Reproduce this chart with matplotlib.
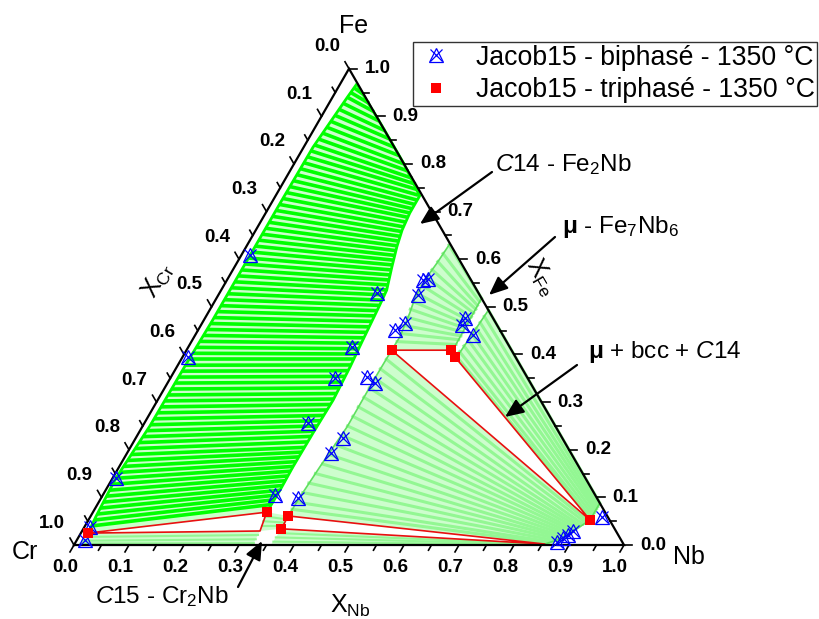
import numpy as np
import matplotlib
matplotlib.use('Agg')
import matplotlib.pyplot as plt
from matplotlib.lines import Line2D

plt.rcParams['font.family'] = ['Liberation Sans', 'DejaVu Sans']
plt.rcParams['mathtext.fontset'] = 'custom'
plt.rcParams['mathtext.rm'] = 'Liberation Sans'
plt.rcParams['mathtext.it'] = 'Liberation Sans:italic'
plt.rcParams['mathtext.bf'] = 'Liberation Sans:bold'

# ---------------- data (x_Nb, x_Fe mole fractions) ----------------
# bcc (Cr,Fe) boundary, bottom -> top
bccA_nb = [0.013, 0.010, 0.006, 0.013, 0.014, 0.016, 0.016, 0.016, 0.017, 0.027, 0.030]
bccA_fe = [0.025, 0.060, 0.140, 0.250, 0.380, 0.470, 0.610, 0.720, 0.835, 0.940, 0.966]
# Laves boundary (Cr side), bottom -> top
lavA_nb = [0.316, 0.317, 0.316, 0.317, 0.319, 0.315, 0.310, 0.304, 0.301, 0.286, 0.274, 0.266, 0.262, 0.262, 0.200, 0.120, 0.032]
lavA_fe = [0.069, 0.116, 0.164, 0.235, 0.304, 0.374, 0.430, 0.504, 0.535, 0.584, 0.626, 0.661, 0.697, 0.733, 0.800, 0.880, 0.966]
# Laves boundary (Nb/Fe side), top -> bottom
lavB_nb = [0.367, 0.364, 0.3605, 0.360, 0.367, 0.374, 0.373, 0.372, 0.3725, 0.365, 0.3605, 0.359]
lavB_fe = [0.630, 0.592, 0.563, 0.521, 0.487, 0.437, 0.409, 0.350, 0.248, 0.164, 0.101, 0.061]
# mu phase boundaries, top -> bottom
muL_nb = [0.482, 0.484, 0.481]
muL_fe = [0.518, 0.416, 0.409]
muR_nb = [0.507, 0.499, 0.495]
muR_fe = [0.493, 0.399, 0.395]
# bcc (Nb) boundary, top -> bottom
bccNb_nb = [0.912, 0.912, 0.893, 0.882, 0.855]
bccNb_fe = [0.088, 0.0525, 0.029, 0.0147, 0.002]

# tie lines, bcc(Cr,Fe) + Laves (first set)
tieA_bcc_fe = [0.040, 0.065, 0.090, 0.115, 0.140, 0.165, 0.190, 0.215, 0.240, 0.265, 0.290, 0.315, 0.340,
               0.365, 0.390, 0.415, 0.440, 0.465, 0.490, 0.515, 0.540, 0.565, 0.590, 0.615, 0.640, 0.665,
               0.690, 0.715, 0.740, 0.765, 0.790, 0.815, 0.840, 0.865, 0.890, 0.915, 0.940, 0.960]
tieA_bcc_nb = [0.012, 0.010, 0.009, 0.007, 0.006, 0.008, 0.009, 0.011, 0.013, 0.013, 0.013, 0.014, 0.014,
               0.014, 0.014, 0.015, 0.015, 0.016, 0.016, 0.016, 0.016, 0.016, 0.016, 0.016, 0.016, 0.016,
               0.016, 0.016, 0.016, 0.016, 0.017, 0.017, 0.017, 0.019, 0.021, 0.024, 0.027, 0.029]
tieA_lav_fe = [0.085, 0.105, 0.125, 0.145, 0.165, 0.185, 0.205, 0.228, 0.250, 0.272, 0.295, 0.318, 0.342,
               0.366, 0.390, 0.412, 0.435, 0.458, 0.481, 0.503, 0.525, 0.546, 0.567, 0.588, 0.608, 0.628,
               0.648, 0.668, 0.688, 0.706, 0.724, 0.745, 0.770, 0.800, 0.835, 0.870, 0.910, 0.945]
tieA_lav_nb = [0.316, 0.317, 0.317, 0.316, 0.316, 0.316, 0.317, 0.317, 0.317, 0.318, 0.319, 0.318, 0.317,
               0.315, 0.314, 0.312, 0.310, 0.308, 0.306, 0.304, 0.302, 0.297, 0.291, 0.285, 0.279, 0.274,
               0.269, 0.265, 0.263, 0.262, 0.262, 0.255, 0.230, 0.200, 0.165, 0.130, 0.090, 0.055]
# tie lines, bcc(Cr,Fe) + Laves (second set, between the first ones)
tieA2_bcc_fe = [0.0525, 0.0775, 0.1025, 0.1275, 0.1525, 0.1775, 0.2025, 0.2275, 0.2525, 0.2775, 0.3025,
                0.3275, 0.3525, 0.3775, 0.4025, 0.4275, 0.4525, 0.4775, 0.5025, 0.5275, 0.5525, 0.5775,
                0.6025, 0.6275, 0.6525, 0.6775, 0.7025, 0.7275, 0.7525, 0.7775, 0.8025, 0.8275, 0.8525,
                0.8775, 0.9025, 0.9275, 0.950]
tieA2_bcc_nb = [0.011, 0.0095, 0.008, 0.0065, 0.007, 0.0085, 0.010, 0.012, 0.013, 0.013, 0.0135,
                0.014, 0.014, 0.014, 0.0145, 0.015, 0.0155, 0.016, 0.016, 0.016, 0.016, 0.016,
                0.016, 0.016, 0.016, 0.016, 0.016, 0.016, 0.016, 0.0165, 0.017, 0.017, 0.018,
                0.020, 0.0225, 0.0255, 0.028]
tieA2_lav_fe = [0.095, 0.115, 0.135, 0.155, 0.175, 0.195, 0.2165, 0.239, 0.261, 0.2835, 0.3065,
                0.330, 0.354, 0.378, 0.401, 0.4235, 0.4465, 0.4695, 0.492, 0.514, 0.5355, 0.5565,
                0.5775, 0.598, 0.618, 0.638, 0.658, 0.678, 0.697, 0.715, 0.7345, 0.7575, 0.785,
                0.8175, 0.8525, 0.890, 0.9275]
tieA2_lav_nb = [0.3165, 0.317, 0.3165, 0.316, 0.316, 0.3165, 0.317, 0.317, 0.3175, 0.3185, 0.3185,
                0.3175, 0.316, 0.3145, 0.313, 0.311, 0.309, 0.307, 0.305, 0.303, 0.2995, 0.294,
                0.288, 0.282, 0.2765, 0.2715, 0.267, 0.264, 0.2625, 0.262, 0.2585, 0.2425, 0.215,
                0.1825, 0.1475, 0.110, 0.0725]
# tie lines C14 + mu
tieB_c14_fe = [0.630, 0.612, 0.595, 0.578, 0.562, 0.545, 0.528, 0.511, 0.495, 0.478, 0.461, 0.444, 0.427]
tieB_c14_nb = [0.367, 0.365, 0.364, 0.362, 0.3605, 0.360, 0.360, 0.361, 0.364, 0.367, 0.369, 0.372, 0.374]
tieB_mu_fe = [0.518, 0.511, 0.503, 0.495, 0.487, 0.479, 0.471, 0.463, 0.455, 0.447, 0.439, 0.431, 0.421]
tieB_mu_nb = [0.482, 0.482, 0.482, 0.483, 0.483, 0.483, 0.483, 0.484, 0.484, 0.484, 0.484, 0.484, 0.484]
# tie lines mu + bcc(Nb)
tieC_mu_fe = [0.493, 0.480, 0.467, 0.455, 0.442, 0.430, 0.418, 0.406, 0.397]
tieC_mu_nb = [0.507, 0.506, 0.505, 0.504, 0.503, 0.502, 0.500, 0.498, 0.496]
tieC_bcc_fe = [0.088, 0.084, 0.080, 0.076, 0.072, 0.067, 0.062, 0.057, 0.054]
tieC_bcc_nb = [0.912, 0.912, 0.912, 0.912, 0.912, 0.912, 0.912, 0.912, 0.912]
# tie lines C14 + bcc(Nb)
tieD_c14_fe = [0.390, 0.370, 0.350, 0.330, 0.310, 0.290, 0.270, 0.250, 0.230, 0.210, 0.190, 0.170, 0.150,
               0.130, 0.110, 0.090, 0.075]
tieD_c14_nb = [0.373, 0.372, 0.372, 0.372, 0.372, 0.372, 0.372, 0.3725, 0.372, 0.371, 0.369, 0.367, 0.364,
               0.362, 0.361, 0.360, 0.359]
tieD_bcc_fe = [0.050, 0.047, 0.044, 0.041, 0.038, 0.035, 0.032, 0.029, 0.026, 0.023, 0.020, 0.017, 0.0147,
               0.012, 0.009, 0.006, 0.004]
tieD_bcc_nb = [0.910, 0.907, 0.903, 0.900, 0.898, 0.896, 0.894, 0.893, 0.891, 0.889, 0.887, 0.885, 0.882,
               0.878, 0.873, 0.867, 0.861]
# small regions near the Cr-Nb edge
tieE = [((0.012, 0.017), (0.324, 0.021)), ((0.011, 0.009), (0.3245, 0.012)), ((0.010, 0.003), (0.325, 0.004))]
tieF = [((0.317, 0.060), (0.359, 0.054)), ((0.319, 0.050), (0.359, 0.047)), ((0.321, 0.040), (0.360, 0.040))]
tieG = [((0.360, 0.025), (0.855, 0.0015)), ((0.359, 0.016), (0.855, 0.001)), ((0.359, 0.007), (0.855, 0.0005))]
regE = [(0.013, 0.025), (0.3235, 0.0294), (0.325, 0.0), (0.010, 0.0)]
regF = [(0.316, 0.069), (0.359, 0.061), (0.360, 0.034), (0.3235, 0.0294)]
regG = [(0.360, 0.034), (0.855, 0.002), (0.856, 0.0), (0.358, 0.0)]

# three-phase triangles
T1 = [(0.013, 0.025), (0.316, 0.069), (0.3235, 0.0294), (0.013, 0.025)]
T2 = [(0.359, 0.061), (0.855, 0.002), (0.360, 0.034), (0.359, 0.061)]
T3 = [(0.373, 0.409), (0.481, 0.409), (0.495, 0.395), (0.912, 0.0525), (0.373, 0.409)]

# experimental points
bi_nb = [0.015, 0.010, 0.005, 0.010, 0.016, 0.286, 0.363, 0.356, 0.364, 0.358, 0.369, 0.475, 0.473, 0.505,
         0.298, 0.299, 0.356, 0.377, 0.297, 0.377, 0.371, 0.313, 0.358, 0.875, 0.882, 0.888, 0.893, 0.931]
bi_fe = [0.0105, 0.038, 0.141, 0.395, 0.609, 0.529, 0.525, 0.556, 0.559, 0.451, 0.466, 0.462, 0.477, 0.441,
         0.416, 0.351, 0.353, 0.340, 0.256, 0.225, 0.193, 0.105, 0.099, 0.0063, 0.0147, 0.021, 0.029, 0.059]
tri_nb = [0.013, 0.316, 0.360, 0.359, 0.373, 0.481, 0.495, 0.912]
tri_fe = [0.025, 0.069, 0.034, 0.061, 0.409, 0.409, 0.395, 0.0525]

tick_vals = [round(0.05 * i, 2) for i in range(21)]
label_vals = ['0.0', '0.1', '0.2', '0.3', '0.4', '0.5', '0.6', '0.7', '0.8', '0.9', '1.0']

# ---------------- helpers ----------------
S3 = np.sqrt(3) / 2
PX = 1 / 550.0


def T(nb, fe):
    nb = np.asarray(nb, float)
    fe = np.asarray(fe, float)
    return nb + fe / 2, fe * S3


def P(px, py):
    return (px - 74) * PX, (545 - py) * PX


fig = plt.figure(figsize=(8.19, 6.19), dpi=100)
ax = fig.add_axes([0, 0, 1, 1])
ax.set_xlim(-74 * PX, 745 * PX)
ax.set_ylim(-74 * PX, 545 * PX)
ax.axis('off')

GA = '#00ff00'
GA_FILL = '#ccffcc'
GL = '#93f793'
GL_FILL = '#cdfdcd'
GL_EDGE = '#5fe05f'

# region A
polyA_nb = bccA_nb + lavA_nb[::-1]
polyA_fe = bccA_fe + lavA_fe[::-1]
ax.fill(*T(polyA_nb, polyA_fe), color=GA_FILL, lw=0, zorder=1)
for a, b, c, d in zip(tieA_bcc_nb + tieA2_bcc_nb, tieA_bcc_fe + tieA2_bcc_fe,
                      tieA_lav_nb + tieA2_lav_nb, tieA_lav_fe + tieA2_lav_fe):
    ax.plot(*T([a, c], [b, d]), color=GA, lw=2.6, zorder=2, solid_capstyle='butt')
ax.plot(*T(bccA_nb, bccA_fe), color=GA, lw=2, zorder=2)
ax.plot(*T(lavA_nb, lavA_fe), color=GA, lw=2, zorder=2)

# region B (C14 + mu)
polyB_nb = lavB_nb[:7] + muL_nb[::-1]
polyB_fe = lavB_fe[:7] + muL_fe[::-1]
ax.fill(*T(polyB_nb, polyB_fe), color=GL_FILL, lw=0, zorder=1)
for a, b, c, d in zip(tieB_c14_nb, tieB_c14_fe, tieB_mu_nb, tieB_mu_fe):
    ax.plot(*T([a, c], [b, d]), color=GL, lw=2.2, zorder=2)
# region C (mu + bcc)
polyC_nb = muR_nb + bccNb_nb[1::-1]
polyC_fe = muR_fe + bccNb_fe[1::-1]
ax.fill(*T(polyC_nb, polyC_fe), color=GL_FILL, lw=0, zorder=1)
for a, b, c, d in zip(tieC_mu_nb, tieC_mu_fe, tieC_bcc_nb, tieC_bcc_fe):
    ax.plot(*T([a, c], [b, d]), color=GL, lw=2.2, zorder=2)
# region D (C14 + bcc)
polyD_nb = lavB_nb[6:] + bccNb_nb[:0:-1]
polyD_fe = lavB_fe[6:] + bccNb_fe[:0:-1]
ax.fill(*T(polyD_nb, polyD_fe), color=GL_FILL, lw=0, zorder=1)
for a, b, c, d in zip(tieD_c14_nb, tieD_c14_fe, tieD_bcc_nb, tieD_bcc_fe):
    ax.plot(*T([a, c], [b, d]), color=GL, lw=2.2, zorder=2)
# small regions
for reg in (regE, regF, regG):
    ax.fill(*T([p[0] for p in reg], [p[1] for p in reg]), color=GL_FILL, lw=0, zorder=1)
for ties in (tieE, tieF, tieG):
    for (a, b), (c, d) in ties:
        ax.plot(*T([a, c], [b, d]), color=GL, lw=1.5, zorder=2)
# boundaries of light regions
ax.plot(*T(lavB_nb, lavB_fe), color=GL_EDGE, lw=1.2, zorder=2)
ax.plot(*T(muL_nb, muL_fe), color=GL_EDGE, lw=1.2, zorder=2)
ax.plot(*T(muR_nb, muR_fe), color=GL_EDGE, lw=1.2, zorder=2)
ax.plot(*T(bccNb_nb, bccNb_fe), color=GL_EDGE, lw=1.2, zorder=2)

# three-phase triangles
for tri in (T1, T2, T3):
    ax.plot(*T([p[0] for p in tri], [p[1] for p in tri]), color='#e81010', lw=1.2, zorder=3)

# triangle frame
ax.plot([0, 1, 0.5, 0], [0, 0, S3, 0], color='black', lw=1.6, zorder=4, solid_joinstyle='miter')

# ticks & labels
for v in tick_vals:
    L = (8 if abs(v * 10 - round(v * 10)) < 1e-6 else 6) * PX
    x0, y0 = v, 0.0
    ax.plot([x0, x0 - 0.5 * L], [y0, y0 - S3 * L], color='black', lw=1.2, zorder=4)
    x0, y0 = (1 - v) / 2, (1 - v) * S3
    ax.plot([x0, x0 - 0.5 * L], [y0, y0 + S3 * L], color='black', lw=1.2, zorder=4)
    x0, y0 = 1 - v / 2, v * S3
    ax.plot([x0, x0 + L], [y0, y0], color='black', lw=1.2, zorder=4)

for i, lab in enumerate(label_vals):
    v = i / 10
    ax.text(v - 9 * PX, -23 * PX, lab, ha='center', va='center', fontsize=13.5, fontweight='bold')
    x0, y0 = (1 - v) / 2, (1 - v) * S3
    ax.text(x0 - 22 * PX, y0 + 22 * PX, lab, ha='center', va='center', fontsize=13.5, fontweight='bold')
    x0, y0 = 1 - v / 2, v * S3
    ax.text(x0 + 16 * PX, y0, lab, ha='left', va='center', fontsize=13.5, fontweight='bold')

# vertex labels
ax.text(*P(354, 26), 'Fe', ha='center', va='center', fontsize=18)
ax.text(*P(25, 552), 'Cr', ha='center', va='center', fontsize=18)
ax.text(*P(689, 557), 'Nb', ha='center', va='center', fontsize=18)

# axis titles
ax.text(*P(158, 280), r'$\mathregular{X_{Cr}}$', rotation=60, ha='center', va='center', fontsize=18)
ax.text(*P(541, 277), r'$\mathregular{X_{Fe}}$', rotation=-60, ha='center', va='center', fontsize=18)
ax.text(*P(350, 606), r'$\mathregular{X_{Nb}}$', ha='center', va='center', fontsize=18)

# data points
h1 = ax.plot(*T(bi_nb, bi_fe), ls='none', marker='^', ms=9.5, mfc='none', mec='#0000ff', mew=0.9, zorder=5)[0]
h2 = ax.plot(*T(bi_nb, bi_fe), ls='none', marker='x', ms=8.5, mec='#0000ff', mew=0.9, zorder=5)[0]
h3 = ax.plot(*T(tri_nb, tri_fe), ls='none', marker='s', ms=7.5, mfc='#ff0000', mec='#ff0000', mew=0, zorder=6)[0]

leg = ax.legend([(h1, h2), h3], ['Jacob15 - biphasé - 1350 °C', 'Jacob15 - triphasé - 1350 °C'],
                loc='upper left', bbox_to_anchor=(413 / 819, 1 - 42 / 619), bbox_transform=fig.transFigure,
                borderaxespad=0, fontsize=19.2, frameon=True, fancybox=False, edgecolor='black',
                handlelength=1.5, handletextpad=0.75, borderpad=0.1, labelspacing=0.25)
leg.get_frame().set_linewidth(1.0)

# annotations
ap = dict(arrowstyle='-|>,head_length=0.7,head_width=0.3', color='black', lw=1.6, mutation_scale=16,
          shrinkA=0, shrinkB=0)
ax.annotate('', xy=P(420, 224), xytext=P(492, 172), arrowprops=ap)
ax.text(*P(495, 171), r'$\mathit{C}$14 - Fe$_2$Nb', ha='left', va='baseline', fontsize=17.5)
ax.annotate('', xy=P(489, 295), xytext=P(555, 237), arrowprops=ap)
ax.text(*P(562, 233), r'$\mathbf{μ}$ - Fe$_7$Nb$_6$', ha='left', va='baseline', fontsize=17.5)
ax.annotate('', xy=P(505, 417), xytext=P(577, 365), arrowprops=ap)
ax.text(*P(588, 358), r'$\mathbf{μ}$ + bcc + $\mathit{C}$14', ha='left', va='baseline', fontsize=17.5)
ax.annotate('', xy=P(262, 541), xytext=P(238, 587), arrowprops=ap)
ax.text(*P(95, 603), r'$\mathit{C}$15 - Cr$_2$Nb', ha='left', va='baseline', fontsize=17.5)

fig.savefig('out.png', dpi=100)
